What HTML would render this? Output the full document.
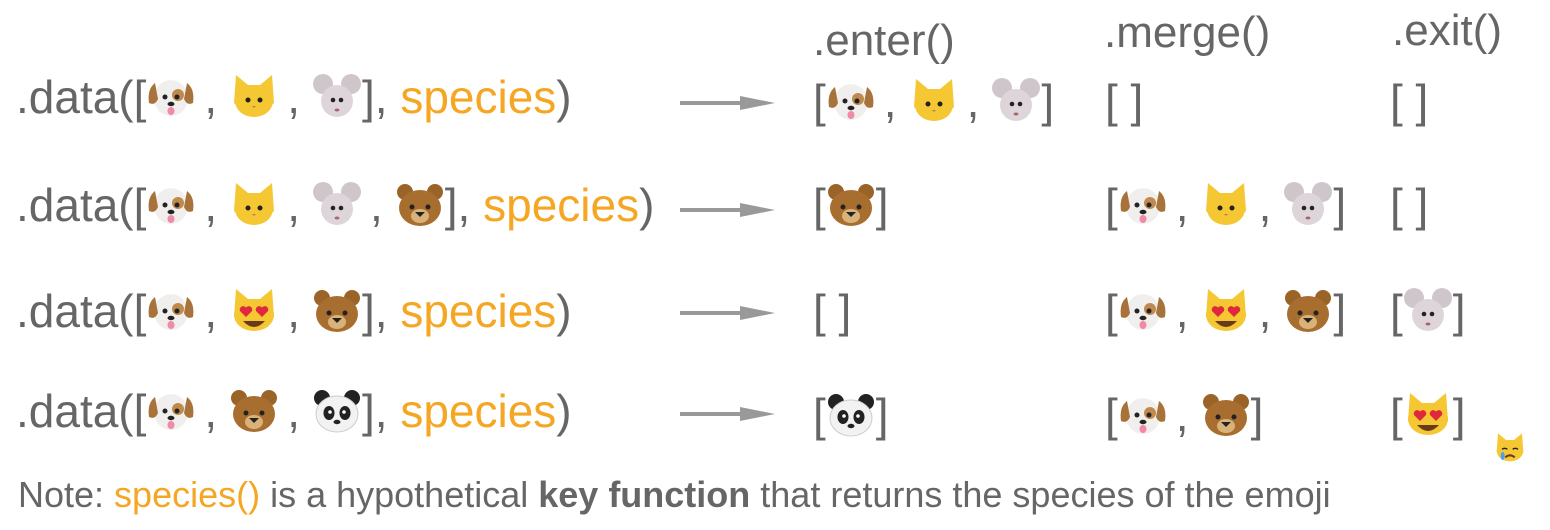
<!DOCTYPE html>
<html><head><meta charset="utf-8"><style>
body{margin:0;width:1550px;height:530px;background:#fff;position:relative;overflow:hidden;font-family:"Liberation Sans",sans-serif;color:#666}
.t{position:absolute;font-size:46px;white-space:nowrap;line-height:50px}
.o{color:#f5a623}
.e{display:inline-block;width:48px;height:48px;vertical-align:-8px;margin:0 1px}
.c{display:inline-block;margin:0 12px 0 8px}
.h{position:absolute;font-size:44px;color:#666}
.ar{position:absolute;left:680px;width:95px;height:14px}
.note{position:absolute;left:18px;top:474px;font-size:36px;white-space:nowrap}
</style></head><body>
<svg width="0" height="0" style="position:absolute">
<defs>
<symbol id="dog" viewBox="0 0 48 48"><ellipse cx="24" cy="25" rx="17" ry="18" fill="#f1efed"/><path d="M8 10 Q0 16 2 30 Q8 33 11 26 Z" fill="#a8733a"/><path d="M40 10 Q48 16 46 30 Q40 33 37 26 Z" fill="#a8733a"/><ellipse cx="31" cy="22" rx="6" ry="6" fill="#c08a4e"/><circle cx="18" cy="24" r="2.5" fill="#222"/><circle cx="30" cy="24" r="2.5" fill="#222"/><ellipse cx="24" cy="31" rx="3.5" ry="2.2" fill="#222"/><ellipse cx="24" cy="38" rx="3.5" ry="4" fill="#f08aa8"/></symbol>
<symbol id="cat" viewBox="0 0 48 48"><path d="M6 2 L18 12 L30 12 L42 2 L44 30 Q24 50 4 30 Z" fill="#f4c733"/><ellipse cx="24" cy="28" rx="19" ry="16" fill="#f4c733"/><circle cx="18" cy="27" r="2.5" fill="#222"/><circle cx="30" cy="27" r="2.5" fill="#222"/><path d="M22 33 h4 l-2 2z" fill="#b77"/></symbol>
<symbol id="mouse" viewBox="0 0 48 48"><circle cx="10" cy="11" r="10" fill="#cfc6cb"/><circle cx="38" cy="11" r="10" fill="#cfc6cb"/><ellipse cx="24" cy="28" rx="16" ry="16" fill="#ddd5da"/><circle cx="20" cy="27" r="2.3" fill="#222"/><circle cx="28" cy="27" r="2.3" fill="#222"/><ellipse cx="24" cy="37" rx="2.5" ry="1.5" fill="#a66"/></symbol>
<symbol id="bear" viewBox="0 0 48 48"><circle cx="9" cy="11" r="8" fill="#9a6428"/><circle cx="39" cy="11" r="8" fill="#9a6428"/><ellipse cx="24" cy="27" rx="21" ry="18" fill="#a86e30"/><ellipse cx="24" cy="35" rx="9" ry="7" fill="#d9b27a"/><circle cx="16" cy="26" r="2.5" fill="#222"/><circle cx="32" cy="26" r="2.5" fill="#222"/><path d="M19 31 h10 l-5 5z" fill="#222"/></symbol>
<symbol id="panda" viewBox="0 0 48 48"><circle cx="9" cy="11" r="8" fill="#222"/><circle cx="39" cy="11" r="8" fill="#222"/><ellipse cx="24" cy="27" rx="21" ry="18" fill="#f2f2f2" stroke="#ccc"/><ellipse cx="16" cy="26" rx="5.5" ry="7" fill="#222"/><ellipse cx="32" cy="26" rx="5.5" ry="7" fill="#222"/><circle cx="17" cy="25" r="1.8" fill="#fff"/><circle cx="31" cy="25" r="1.8" fill="#fff"/><ellipse cx="24" cy="35" rx="3.5" ry="2.2" fill="#222"/></symbol>
<symbol id="hcat" viewBox="0 0 48 48"><path d="M6 2 L18 12 L30 12 L42 2 L44 30 Q24 50 4 30 Z" fill="#f4c733"/><ellipse cx="24" cy="28" rx="20" ry="16" fill="#f4c733"/><path d="M16 30 l-6-6 a3.5 3.5 0 0 1 6-3.5 a3.5 3.5 0 0 1 6 3.5z" fill="#e0283c"/><path d="M32 30 l-6-6 a3.5 3.5 0 0 1 6-3.5 a3.5 3.5 0 0 1 6 3.5z" fill="#e0283c"/><path d="M13 34 Q24 46 35 34 Z" fill="#6b3a1a"/></symbol>
<symbol id="scat" viewBox="0 0 48 48"><path d="M6 2 L18 12 L30 12 L42 2 L44 30 Q24 50 4 30 Z" fill="#f4c733"/><ellipse cx="24" cy="28" rx="20" ry="16" fill="#f4c733"/><path d="M12 26 q4-3 8 0 M28 26 q4-3 8 0" stroke="#222" stroke-width="2" fill="none"/><path d="M17 38 Q24 32 31 38" stroke="#6b3a1a" stroke-width="3" fill="none"/><ellipse cx="13" cy="36" rx="3" ry="6" fill="#4aa3e8"/></symbol>
</defs></svg>

<div class="h" style="left:813px;top:16px">.enter()</div>
<div class="h" style="left:1104px;top:8px">.merge()</div>
<div class="h" style="left:1392px;top:6px">.exit()</div>

<div class="t" style="left:16px;top:72px">.data([<svg class="e"><use href="#dog"/></svg><span class="c">,</span><svg class="e"><use href="#cat"/></svg><span class="c">,</span><svg class="e"><use href="#mouse"/></svg>], <span class="o">species</span>)</div>
<div class="t" style="left:16px;top:180px">.data([<svg class="e"><use href="#dog"/></svg><span class="c">,</span><svg class="e"><use href="#cat"/></svg><span class="c">,</span><svg class="e"><use href="#mouse"/></svg><span class="c">,</span><svg class="e"><use href="#bear"/></svg>], <span class="o">species</span>)</div>
<div class="t" style="left:16px;top:286px">.data([<svg class="e"><use href="#dog"/></svg><span class="c">,</span><svg class="e"><use href="#hcat"/></svg><span class="c">,</span><svg class="e"><use href="#bear"/></svg>], <span class="o">species</span>)</div>
<div class="t" style="left:16px;top:386px">.data([<svg class="e"><use href="#dog"/></svg><span class="c">,</span><svg class="e"><use href="#bear"/></svg><span class="c">,</span><svg class="e"><use href="#panda"/></svg>], <span class="o">species</span>)</div>

<svg class="ar" style="top:96px" viewBox="0 0 95 14"><rect x="0" y="5" width="70" height="4" fill="#999"/><path d="M60 0 L95 7 L60 14 Z" fill="#999"/></svg>
<svg class="ar" style="top:203px" viewBox="0 0 95 14"><rect x="0" y="5" width="70" height="4" fill="#999"/><path d="M60 0 L95 7 L60 14 Z" fill="#999"/></svg>
<svg class="ar" style="top:306px" viewBox="0 0 95 14"><rect x="0" y="5" width="70" height="4" fill="#999"/><path d="M60 0 L95 7 L60 14 Z" fill="#999"/></svg>
<svg class="ar" style="top:407px" viewBox="0 0 95 14"><rect x="0" y="5" width="70" height="4" fill="#999"/><path d="M60 0 L95 7 L60 14 Z" fill="#999"/></svg>

<div class="t" style="left:813px;top:76px">[<svg class="e"><use href="#dog"/></svg><span class="c">,</span><svg class="e"><use href="#cat"/></svg><span class="c">,</span><svg class="e"><use href="#mouse"/></svg>]</div>
<div class="t" style="left:1105px;top:76px">[ ]</div>
<div class="t" style="left:1390px;top:76px">[ ]</div>

<div class="t" style="left:813px;top:180px">[<svg class="e"><use href="#bear"/></svg>]</div>
<div class="t" style="left:1105px;top:180px">[<svg class="e"><use href="#dog"/></svg><span class="c">,</span><svg class="e"><use href="#cat"/></svg><span class="c">,</span><svg class="e"><use href="#mouse"/></svg>]</div>
<div class="t" style="left:1390px;top:180px">[ ]</div>

<div class="t" style="left:813px;top:286px">[ ]</div>
<div class="t" style="left:1105px;top:286px">[<svg class="e"><use href="#dog"/></svg><span class="c">,</span><svg class="e"><use href="#hcat"/></svg><span class="c">,</span><svg class="e"><use href="#bear"/></svg>]</div>
<div class="t" style="left:1390px;top:286px">[<svg class="e"><use href="#mouse"/></svg>]</div>

<div class="t" style="left:813px;top:390px">[<svg class="e"><use href="#panda"/></svg>]</div>
<div class="t" style="left:1105px;top:390px">[<svg class="e"><use href="#dog"/></svg><span class="c">,</span><svg class="e"><use href="#bear"/></svg>]</div>
<div class="t" style="left:1390px;top:390px">[<svg class="e"><use href="#hcat"/></svg>]</div>
<svg style="position:absolute;left:1494px;top:432px" width="32" height="32"><use href="#scat"/></svg>

<div class="note">Note: <span class="o">species()</span> is a hypothetical <b>key function</b> that returns the species of the emoji</div>
</body></html>
